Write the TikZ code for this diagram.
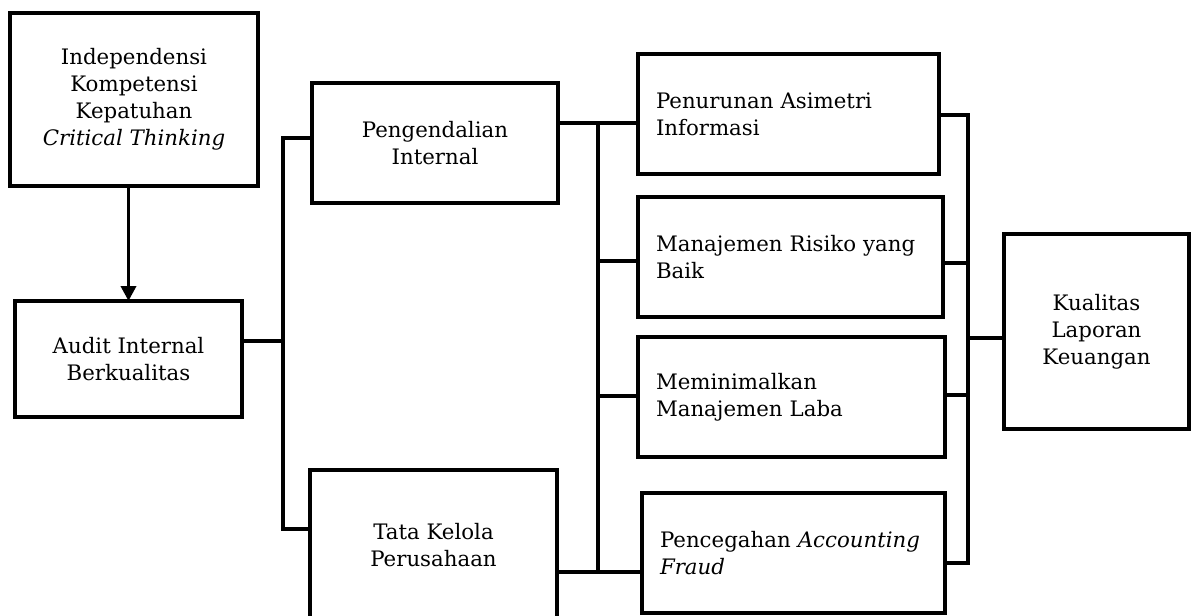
\documentclass[tikz,border=0pt]{standalone}
\usepackage{fontspec}
\setmainfont{DejaVu Serif}
\usetikzlibrary{arrows.meta}
\begin{document}
\begin{tikzpicture}[x=1pt,y=-1pt,
  box/.style={draw, line width=3.6pt, rectangle, inner sep=0pt, outer sep=0pt,
    font=\fontsize{21.3}{27}\selectfont, align=center},
  lbox/.style={box, align=left, inner xsep=18pt},
  conn/.style={line width=3.6pt},
  arr/.style={conn, -{Triangle[length=15pt, width=15pt]}}]
\clip (0,0) rectangle (1192,616);
\fill[white] (0,0) rectangle (1192,616);

\node[box, minimum width=248pt, minimum height=173pt] (ind) at (134,99.5)
  {Independensi\\Kompetensi\\Kepatuhan\\\textit{Critical Thinking}};
\node[box, minimum width=227pt, minimum height=116pt] (aud) at (128.5,359)
  {Audit Internal\\Berkualitas};
\node[box, minimum width=246pt, minimum height=120pt] (pen) at (435,143)
  {Pengendalian\\Internal};
\node[box, minimum width=247pt, minimum height=150pt] (tat) at (433.5,545)
  {Tata Kelola\\Perusahaan};
\node[lbox, minimum width=301pt, minimum height=120pt, text width=265pt] (pur) at (788.5,114)
  {Penurunan Asimetri\\Informasi};
\node[lbox, minimum width=305pt, minimum height=120pt, text width=269pt] (man) at (790.5,257)
  {Manajemen Risiko yang\\Baik};
\node[lbox, minimum width=307pt, minimum height=120pt, text width=271pt] (mem) at (791.5,397)
  {Meminimalkan\\Manajemen Laba};
\node[lbox, minimum width=303pt, minimum height=120pt, text width=267pt] (pcg) at (793.5,553)
  {Pencegahan \textit{Accounting}\\\textit{Fraud}};
\node[box, minimum width=185pt, minimum height=195pt] (kua) at (1096.5,331.5)
  {Kualitas\\Laporan\\Keuangan};

\coordinate (b1a) at (283,138);
\coordinate (b1m) at (283,341);
\coordinate (b1b) at (283,529);
\coordinate (b2a) at (598,123);
\coordinate (b2r) at (598,261);
\coordinate (b2m) at (598,396);
\coordinate (b2b) at (598,572);
\coordinate (r1) at (968,115);
\coordinate (r2) at (968,263);
\coordinate (rk) at (968,338);
\coordinate (r3) at (968,395);
\coordinate (r4) at (968,563);

\draw[arr] (ind.south -| aud.north) -- (aud.north);
\draw[conn] (aud.east |- b1m) -- (b1m);
\draw[conn] (pen.west |- b1a) -- (b1a) -- (b1b) -- (tat.west |- b1b);
\draw[conn] (pen.east |- b2a) -- (pur.west |- b2a);
\draw[conn] (b2a) -- (b2b);
\draw[conn] (b2r) -- (man.west |- b2r);
\draw[conn] (b2m) -- (mem.west |- b2m);
\draw[conn] (tat.east |- b2b) -- (pcg.west |- b2b);
\draw[conn] (pur.east |- r1) -- (r1) -- (r4) -- (pcg.east |- r4);
\draw[conn] (man.east |- r2) -- (r2);
\draw[conn] (mem.east |- r3) -- (r3);
\draw[conn] (rk) -- (kua.west |- rk);
\end{tikzpicture}
\end{document}
